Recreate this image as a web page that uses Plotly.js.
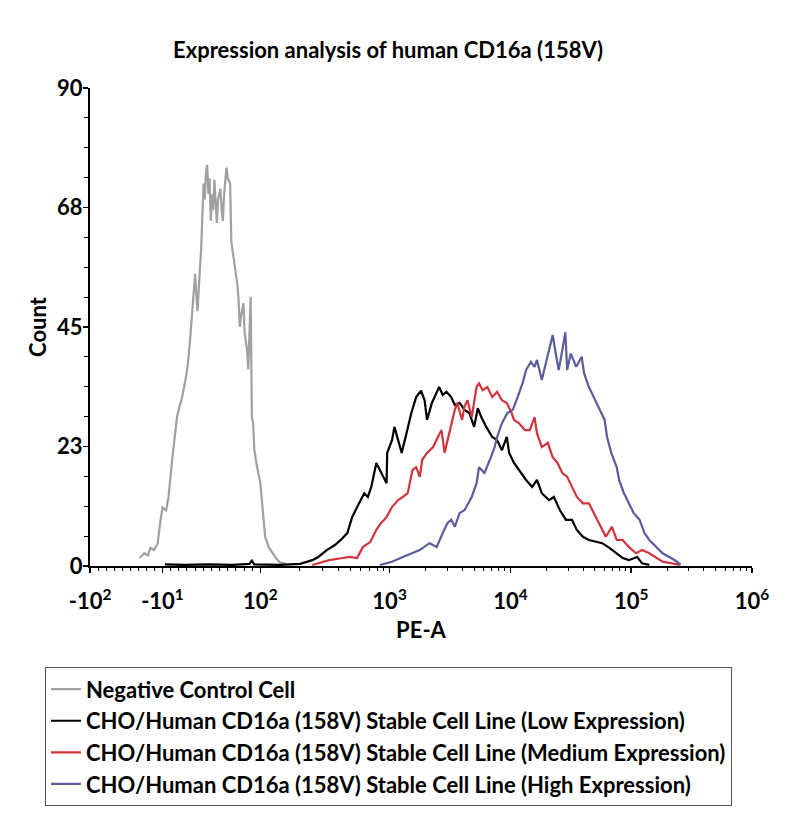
<!DOCTYPE html>
<html>
<head>
<meta charset="utf-8">
<script src="https://cdn.plot.ly/plotly-3.0.1.min.js"></script>
<style>
  html, body { margin: 0; padding: 0; background: #ffffff; }
  #chart { width: 800px; height: 830px; }
</style>
</head>
<body>
<div id="chart"></div>
<script>
// x values are in display-scale units of the PE-A axis (decade units: 10^3 = 3, 10^4 = 4 ...)
const seriesNames = [
  "Negative Control Cell",
  "CHO/Human CD16a (158V) Stable Cell Line (Low Expression)",
  "CHO/Human CD16a (158V) Stable Cell Line (Medium Expression)",
  "CHO/Human CD16a (158V) Stable Cell Line (High Expression)"
];

const negX = [0.93,0.97,1.00,1.02,1.05,1.08,1.10,1.12,1.15,1.17,1.20,1.22,1.24,1.26,1.28,1.31,1.33,1.35,1.37,1.39,1.40,1.41,1.43,1.44,1.45,1.46,1.47,1.48,1.49,1.50,1.51,1.52,1.53,1.54,1.55,1.56,1.57,1.58,1.60,1.61,1.62,1.63,1.64,1.65,1.66,1.68,1.69,1.71,1.74,1.75,1.76,1.77,1.79,1.80,1.82,1.83,1.84,1.85,1.86,1.87,1.88,1.90,1.93,1.95,1.97,2.00,2.03,2.06,2.09,2.15];
const negY = [1.5,2.4,2.0,3.4,3.0,4.2,8.0,11,10.5,13,20,24,28,30,31.5,35,38,43,50,55,51,48,56,59.5,66,72,69,74,75.5,70,73,65,70,67,72.7,68,64.6,69,71,67,65,70,73,75,73,72,61,58,53,50,45,47,49.5,44,40.7,37,45,50.7,28,27,22,19,15.6,10,5.5,3.5,2.4,1.5,0.7,0.3];

const lowX = [1.14,1.30,1.50,1.70,1.84,1.86,1.88,2.00,2.09,2.26,2.36,2.41,2.48,2.55,2.60,2.65,2.69,2.74,2.79,2.82,2.85,2.89,2.93,2.975,2.98,3.02,3.04,3.07,3.10,3.14,3.18,3.22,3.26,3.29,3.31,3.35,3.37,3.41,3.44,3.47,3.51,3.54,3.58,3.62,3.66,3.70,3.73,3.76,3.80,3.85,3.89,3.93,3.97,3.99,4.03,4.07,4.13,4.18,4.22,4.26,4.32,4.36,4.41,4.46,4.51,4.55,4.60,4.65,4.71,4.76,4.82,4.88,4.93,4.98,5.05,5.09,5.15];
const lowY = [0.3,0.2,0.3,0.2,0.4,1.0,0.3,0.2,0.2,0.4,1.1,1.7,3,4,5,6.2,9.2,11.5,13.7,13,15,19.4,17.5,15.6,21.3,23.7,26.2,23.7,21.3,25,28.8,31.8,33,31.2,27.5,30.7,31.8,33.7,32.2,32.8,31.8,30.3,30.7,29.4,28.8,26.2,29.7,28,26.2,24.3,23.7,21.8,24.3,21.3,19.4,18.1,16.2,14.9,16.2,13.7,12.4,13,10.5,8.7,8.7,6.8,5.5,4.9,4.5,4.3,3.4,2.4,1.5,1.1,1.7,0.5,0.2];

const medX = [2.36,2.50,2.61,2.67,2.73,2.78,2.84,2.89,2.93,2.975,3.02,3.07,3.11,3.15,3.19,3.22,3.25,3.27,3.31,3.36,3.40,3.43,3.455,3.48,3.51,3.54,3.56,3.60,3.62,3.645,3.68,3.72,3.74,3.77,3.81,3.85,3.89,3.93,3.97,4.01,4.03,4.07,4.12,4.16,4.20,4.22,4.26,4.31,4.35,4.39,4.43,4.47,4.51,4.55,4.60,4.65,4.69,4.75,4.79,4.84,4.88,4.93,4.98,5.04,5.09,5.15,5.21,5.26,5.34,5.40];
const medY = [0.2,1.1,1.5,1.7,1.5,3.6,4.5,6.8,8.1,9.2,11.1,12.4,13,13.7,18.1,18.6,16.8,20,21.3,22.4,24.3,25.6,21.3,23.7,26.2,29.4,30.7,27.5,30,31.2,28,33.7,34.4,33.1,33.7,31.8,32.8,31.2,30.7,28.8,27.5,26.9,25.6,25.6,28,25,22.4,23.2,20.5,19.4,17.5,16.8,14.9,13,11.8,11.8,10,7.4,5.5,7.4,4.9,4.9,3.6,2.4,3,2.4,1.5,0.8,0.5,0.2];

const highX = [2.92,3.02,3.11,3.19,3.25,3.33,3.39,3.44,3.48,3.51,3.54,3.58,3.62,3.68,3.72,3.74,3.785,3.83,3.87,3.89,3.93,3.975,4.02,4.06,4.10,4.13,4.17,4.20,4.22,4.26,4.30,4.34,4.35,4.38,4.40,4.43,4.455,4.47,4.50,4.545,4.59,4.61,4.65,4.69,4.74,4.78,4.80,4.835,4.88,4.90,4.94,4.98,5.02,5.07,5.11,5.15,5.21,5.26,5.33,5.38,5.41];
const highY = [0.2,0.8,1.7,2.4,3,4.3,3.6,6.2,8.1,8.7,7.4,10,10.5,13,15.6,18.6,17.5,20,22.4,24.3,26.9,28.8,29.4,31.8,34.4,36.9,38.4,37.5,38.8,35,38.8,42,43.5,39.4,36.9,40.7,44,36.9,40,37.5,39.4,36.3,33.7,31.8,29.4,27.5,24.3,21.3,18.6,16.2,13.7,11.8,10,8.7,6.2,4.9,3.6,2.4,1.5,0.8,0.2];

const lineColors = ["#a0a0a0", "#000000", "#d2343c", "#5c5c9c"];

// Axis ticks
const xTickVals = [0.52, 1.12, 1.93, 3, 4, 5, 6];
const xTickText = ["-10<sup>2</sup>", "-10<sup>1</sup>", "10<sup>2</sup>", "10<sup>3</sup>", "10<sup>4</sup>", "10<sup>5</sup>", "10<sup>6</sup>"];
const yTickVals = [0, 22.5, 45, 67.5, 90];
const yTickText = ["0", "23", "45", "68", "90"];

// minor ticks of the display scale
const xMinor = [];
for (let i = 1; i < 9; i++) xMinor.push(0.52 + i * (1.12 - 0.52) / 9);
for (let i = 1; i < 12; i++) xMinor.push(1.12 + i * (1.93 - 1.12) / 12);
const decadeStarts = [1.93, 3, 4, 5];
const decadeEnds = [3, 4, 5, 6];
decadeStarts.forEach((s, d) => {
  for (let k = 2; k <= 9; k++) xMinor.push(s + (decadeEnds[d] - s) * Math.log10(k));
});

const font = "Lato, 'Open Sans', sans-serif";
const xs = [negX, lowX, medX, highX];
const ys = [negY, lowY, medY, highY];

const traces = seriesNames.map((name, i) => ({
  type: "scatter",
  mode: "lines",
  name: name,
  x: xs[i],
  y: ys[i],
  line: { color: lineColors[i], width: 2.2 },
  hoverinfo: "x+y+name"
}));

const layout = {
  width: 800,
  height: 830,
  paper_bgcolor: "#ffffff",
  plot_bgcolor: "#ffffff",
  margin: { l: 90, r: 48, t: 88, b: 264 },
  font: { family: font, color: "#000000" },
  title: {
    text: "<b>Expression analysis of human CD16a (158V)</b>",
    font: { family: font, size: 22, color: "#000000" },
    x: 0.485, xref: "container", xanchor: "center",
    y: 0.94, yref: "container", yanchor: "middle"
  },
  xaxis: {
    range: [0.52, 6.0],
    showgrid: false,
    zeroline: false,
    showline: true,
    linecolor: "#000000",
    linewidth: 2,
    ticks: "outside",
    ticklen: 5,
    tickwidth: 1.5,
    tickcolor: "#000000",
    tickmode: "array",
    tickvals: xTickVals,
    ticktext: xTickText,
    tickfont: { family: font, size: 22, color: "#000000", weight: "bold" },
    ticklabelstandoff: 10,
    minor: { tickmode: "array", tickvals: xMinor, ticks: "outside", ticklen: 3, tickwidth: 1, tickcolor: "#000000", showgrid: false },
    title: { text: "<b>PE-A</b>", font: { family: font, size: 22, color: "#000000" }, standoff: 9 },
    automargin: false,
    fixedrange: true
  },
  yaxis: {
    range: [0, 90],
    showgrid: false,
    zeroline: false,
    showline: true,
    linecolor: "#000000",
    linewidth: 2,
    ticks: "outside",
    ticklen: 5,
    tickwidth: 1.5,
    tickcolor: "#000000",
    tickmode: "array",
    tickvals: yTickVals,
    ticktext: yTickText,
    tickfont: { family: font, size: 22, color: "#000000", weight: "bold" },
    ticklabelstandoff: -4,
    minor: { tick0: 0, dtick: 5.625, ticks: "outside", ticklen: 4, tickwidth: 1, tickcolor: "#000000", showgrid: false },
    title: { text: "<b>Count</b>", font: { family: font, size: 22, color: "#000000" }, standoff: 4 },
    automargin: false,
    fixedrange: true
  },
  showlegend: true,
  legend: {
    x: -0.068, xanchor: "left",
    y: -0.212, yanchor: "top",
    bgcolor: "#ffffff",
    bordercolor: "#555555",
    borderwidth: 1,
    font: { family: font, size: 22, color: "#000000", weight: "bold" },
    tracegroupgap: 0,
    itemwidth: 30,
    traceorder: "normal"
  }
};

Plotly.newPlot("chart", traces, layout, { displayModeBar: false, staticPlot: true });
</script>
</body>
</html>
